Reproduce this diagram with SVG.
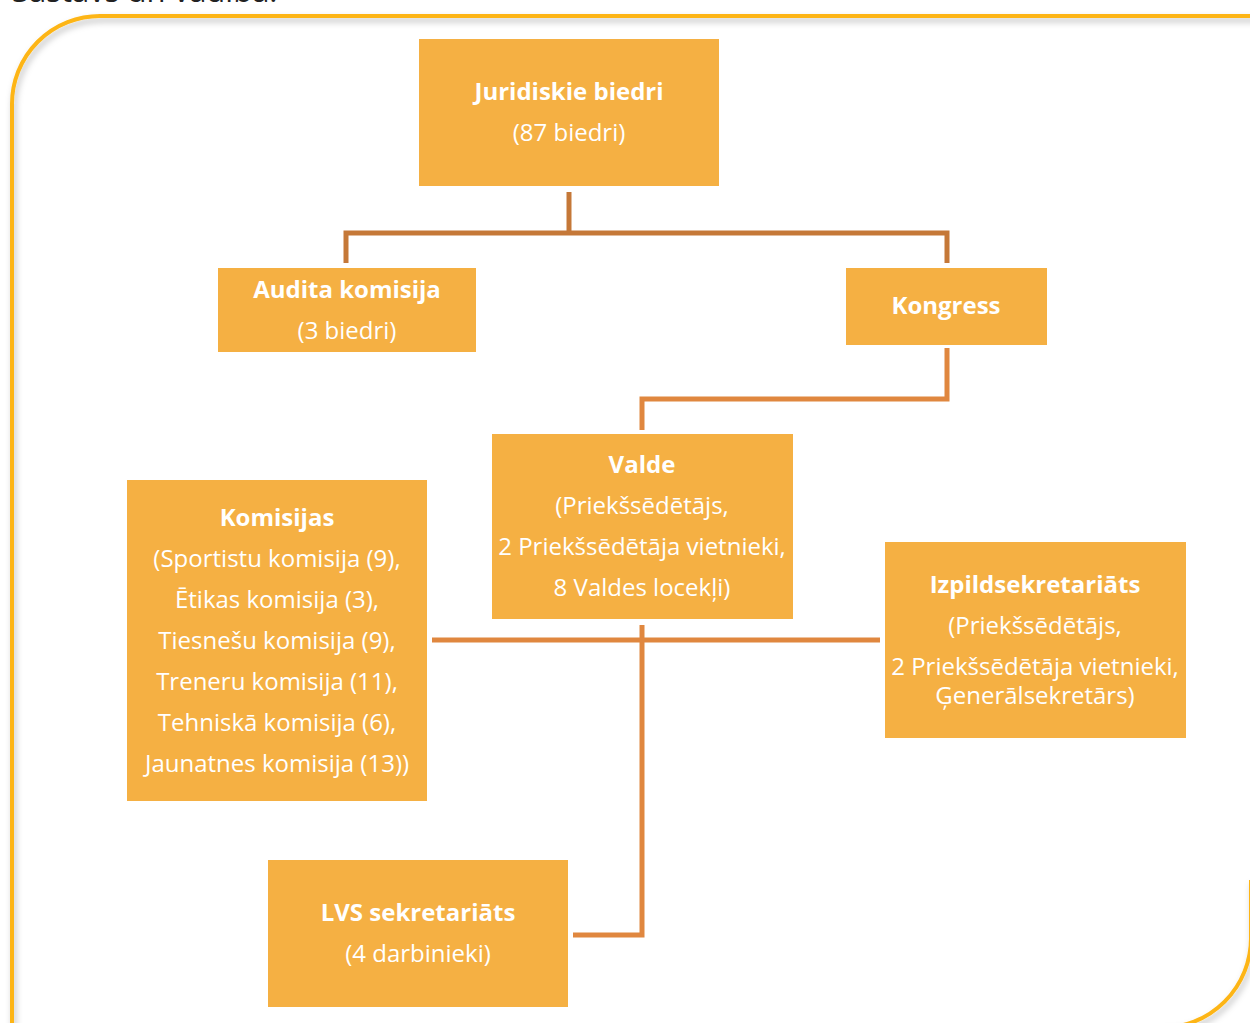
<svg xmlns="http://www.w3.org/2000/svg" width="1250" height="1023" viewBox="0 0 1250 1023">
<defs>
<filter id="sh" x="-5%" y="-5%" width="110%" height="110%">
<feDropShadow dx="2" dy="4" stdDeviation="3" flood-color="#000" flood-opacity="0.25"/>
</filter>
</defs>
<style>
.box{fill:#F5B043;}
.t{font-family:"Open Sans","Noto Sans","Liberation Sans",sans-serif;font-size:24px;fill:#fff;text-anchor:middle;}
.b{font-weight:bold;}
.c1{fill:none;stroke:#C57838;stroke-width:5;}
.c2{fill:none;stroke:#E0873F;stroke-width:5;}
.frame{fill:none;stroke:#FDB515;stroke-width:4;}
</style>
<rect width="1250" height="1023" fill="#fff"/>
<text x="12" y="2" style="font-family:'Open Sans','Liberation Sans',sans-serif;font-size:31px;fill:#222;">Sastāvs un vadība.</text>
<g filter="url(#sh)">
<path class="frame" d="M12,1040 V104 A88,88 0 0 1 100,16 H1270"/>
<path class="frame" d="M1251,880 V938 A90,90 0 0 1 1161,1028 H1100"/>
</g>
<g id="connectors">
<path class="c1" d="M569,192 V233"/>
<path class="c1" d="M346,263 V233 H947 V263"/>
<path class="c2" d="M947,348 V399 H642 V430"/>
<path class="c2" d="M642,625 V935 H573"/>
<path class="c2" d="M432,640 H880"/>
</g>
<g id="juridiskie">
<rect class="box" x="419" y="39" width="300" height="147"/>
<text class="t b" x="569" y="100">Juridiskie biedri</text>
<text class="t" x="569" y="141">(87 biedri)</text>
</g>
<g id="audita">
<rect class="box" x="218" y="268" width="258" height="84"/>
<text class="t b" x="347" y="298">Audita komisija</text>
<text class="t" x="347" y="339">(3 biedri)</text>
</g>
<g id="kongress">
<rect class="box" x="846" y="268" width="201" height="77"/>
<text class="t b" x="946" y="314">Kongress</text>
</g>
<g id="valde">
<rect class="box" x="492" y="434" width="301" height="185"/>
<text class="t b" x="642" y="473">Valde</text>
<text class="t" x="642" y="514">(Priekšsēdētājs,</text>
<text class="t" x="642" y="555">2 Priekšsēdētāja vietnieki,</text>
<text class="t" x="642" y="596">8 Valdes locekļi)</text>
</g>
<g id="komisijas">
<rect class="box" x="127" y="480" width="300" height="321"/>
<text class="t b" x="277" y="526">Komisijas</text>
<text class="t" x="277" y="567">(Sportistu komisija (9),</text>
<text class="t" x="277" y="608">Ētikas komisija (3),</text>
<text class="t" x="277" y="649">Tiesnešu komisija (9),</text>
<text class="t" x="277" y="690">Treneru komisija (11),</text>
<text class="t" x="277" y="731">Tehniskā komisija (6),</text>
<text class="t" x="277" y="772">Jaunatnes komisija (13))</text>
</g>
<g id="izpild">
<rect class="box" x="885" y="542" width="301" height="196"/>
<text class="t b" x="1035" y="593">Izpildsekretariāts</text>
<text class="t" x="1035" y="634">(Priekšsēdētājs,</text>
<text class="t" x="1035" y="675">2 Priekšsēdētāja vietnieki,</text>
<text class="t" x="1035" y="704">Ģenerālsekretārs)</text>
</g>
<g id="lvs">
<rect class="box" x="268" y="860" width="300" height="147"/>
<text class="t b" x="418" y="921">LVS sekretariāts</text>
<text class="t" x="418" y="962">(4 darbinieki)</text>
</g>
</svg>
